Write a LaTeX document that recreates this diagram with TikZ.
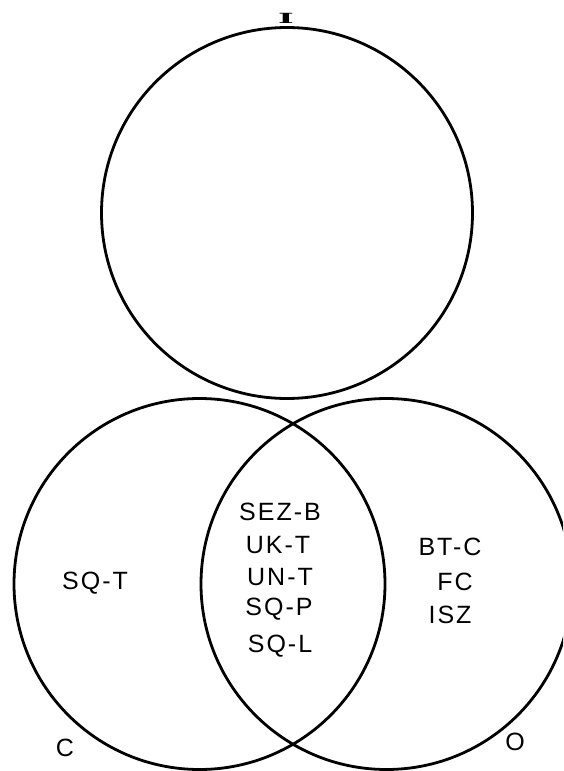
\documentclass[tikz,border=0pt]{standalone}
\usepackage{fontspec}
\newfontfamily\hand[LetterSpace=8]{Liberation Sans}
\newfontfamily\slab{DejaVu Serif}
\begin{document}
\begin{tikzpicture}[x=1pt,y=-1pt,
  ring/.style={circle,draw,line width=2.8pt,inner sep=0pt,minimum size=371pt},
  lab/.style={font=\hand\fontsize{25}{25}\selectfont,inner sep=0pt,anchor=center}]
\useasboundingbox (0,0) rectangle (563,771);
\clip (0,0) rectangle (563,771);
% sets
\node[ring] (setI) at (287,213) {};
\node[ring] (setC) at (199.5,584) {};
\node[ring] (setO) at (386.5,584) {};
% set names
\node[inner sep=0pt,font=\slab\bfseries\fontsize{14}{14}\selectfont] (nameI) at (286,18) {\scalebox{2.4}[1]{I}};
\node[lab] (nameC) at (65,748) {C};
\node[lab] (nameO) at (515,742) {O};
% only C
\node[lab] (sqt) at (95,583) {SQ-T};
% C and O
\node[lab] (sezb) at (280,512) {SEZ-B};
\node[lab] (ukt) at (278,545) {UK-T};
\node[lab] (unt) at (280,577) {UN-T};
\node[lab] (sqp) at (279,609) {SQ-P};
\node[lab] (sql) at (280,646) {SQ-L};
% only O
\node[lab] (btc) at (450,547) {BT-C};
\node[lab] (fc) at (455,582) {FC};
\node[lab] (isz) at (450,615) {ISZ};
\end{tikzpicture}
\end{document}
